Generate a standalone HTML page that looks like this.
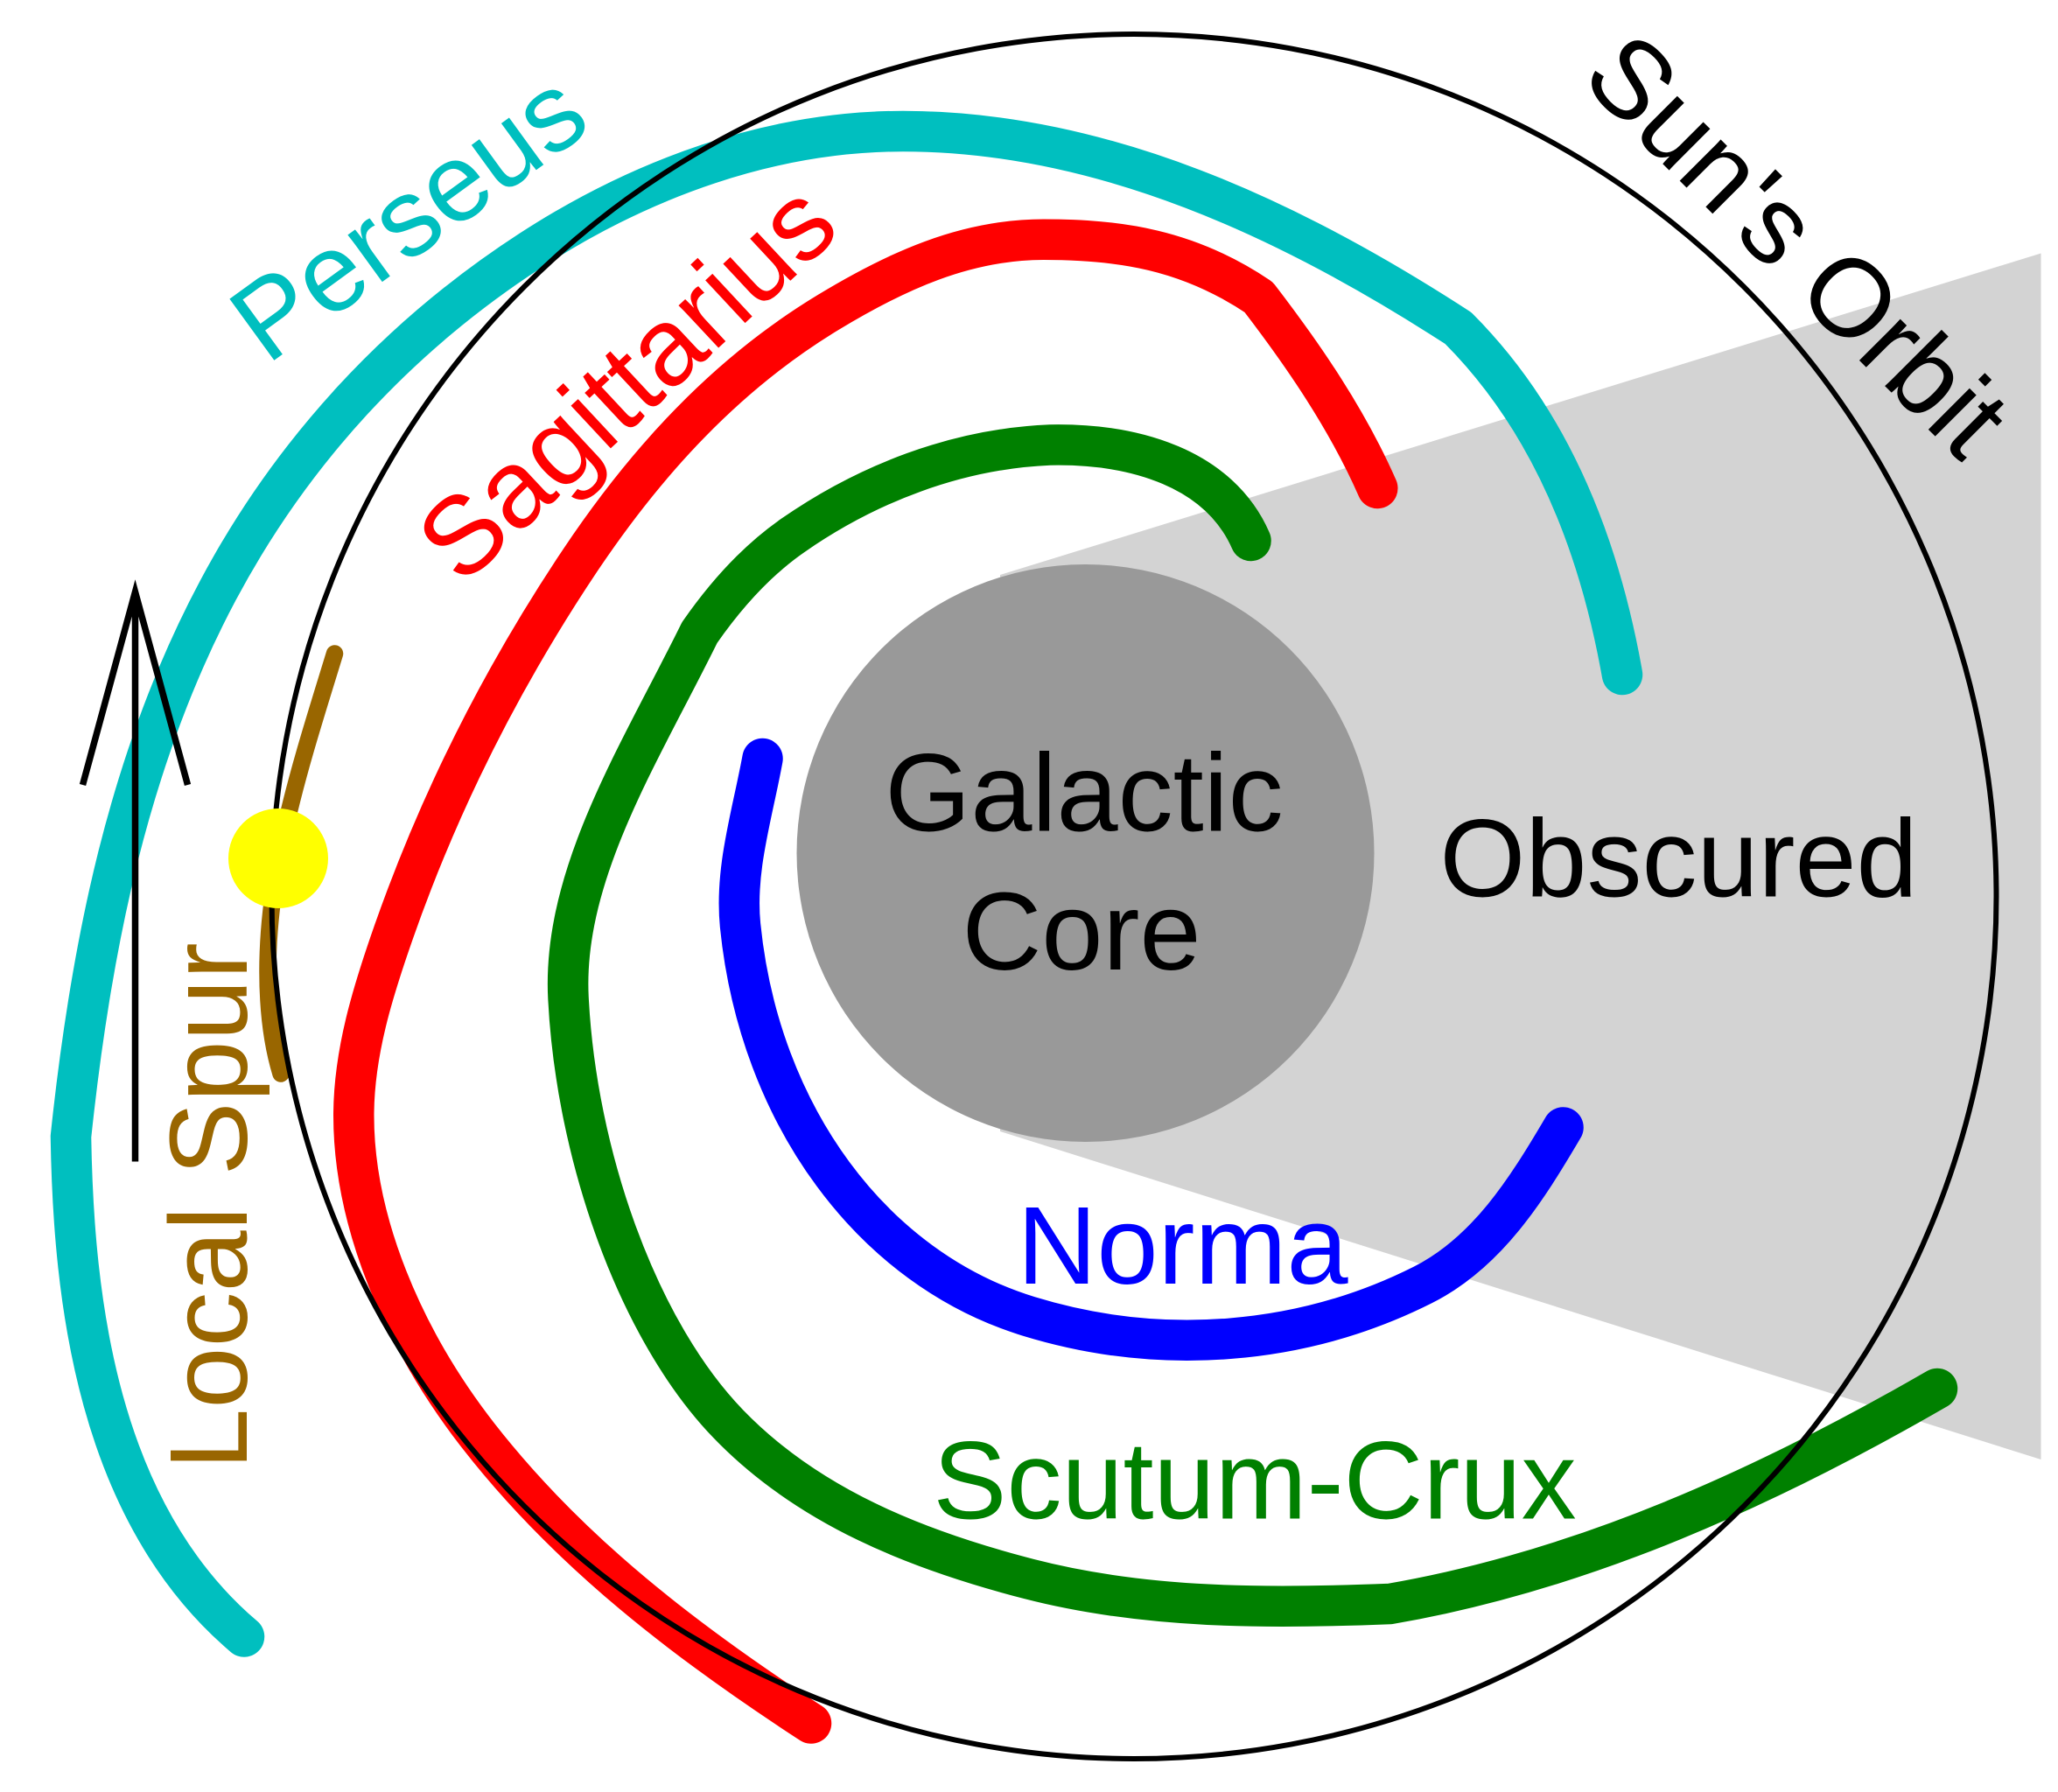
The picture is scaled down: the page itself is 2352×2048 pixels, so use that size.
<!DOCTYPE html>
<html>
<head>
<meta charset="utf-8">
<style>
html,body{margin:0;padding:0;background:#fff;}
svg{display:block;}
</style>
</head>
<body>
<svg xmlns="http://www.w3.org/2000/svg" width="2352" height="2048" viewBox="0 0 1568 1365.333">
<rect x="0" y="0" width="1568" height="1365.333" fill="#ffffff"/>
<!-- obscured region -->
<polygon points="762,438 1555,193 1555,1112 762,862" fill="#d3d3d3"/>
<!-- galactic core -->
<circle cx="827" cy="650" r="220" fill="#999999"/>

<g fill="none" stroke-width="31" stroke-linecap="round" stroke-linejoin="round">
<!-- Perseus -->
<path stroke="#00bfbf" d="M186,1247 C74,1152 56,990 54,866 C69.2,721.7 97.8,578 166,450 C222.4,344 303.3,256.4 404,191 C488.7,136 587,100 688,100 C840,100 983.5,167.2 1111,250 C1181.7,320.7 1218.6,415.5 1236,514"/>
<!-- Sagittarius -->
<path stroke="#ff0000" d="M1049.5,372 C1026.6,319.8 993.7,271.6 959,226.4 C905,190 853,182.5 795,182.5 C735,182.5 682.3,206.9 631,238 C553.2,285.1 492.6,351.4 442,427 C383.1,515.1 335.1,609.9 300,710 C284.1,755.3 269.5,802 269.5,850 C269.5,930 306.1,1019 364.5,1094 C434,1183.2 523.3,1251.3 618,1313"/>
<!-- Scutum-Crux -->
<path stroke="#008000" d="M953,412 C929,357 865,337.7 800,339 C728,342 660,369 604,408 C576.1,427.4 552.4,454.1 533,482 C488.9,571.8 428.3,665.1 433,760 C439,879.8 485.5,1013.1 555,1085 C616.2,1148.3 698.8,1181 784,1203 C873,1226 967.2,1225.7 1059,1222 C1206.8,1196.5 1346.1,1133 1476,1058"/>
<!-- Norma -->
<path stroke="#0000ff" d="M581,578 C573.3,620.3 559.7,662.2 564,705 C578.5,849.3 664.5,966.5 784,1003 C883.4,1033.4 991.1,1025.7 1084,979 C1133.1,954.3 1163.1,906.4 1191,859"/>
</g>

<!-- Local Spur -->
<path fill="none" stroke="#996600" stroke-width="13" stroke-linecap="round" stroke-linejoin="round" d="M255,498 C230.7,577.3 204,657 204,740 C204,766 206.4,793.1 214,818"/>

<!-- Sun's orbit -->
<circle cx="864" cy="683" r="657" fill="none" stroke="#000" stroke-width="4"/>

<!-- direction arrow -->
<path d="M103,885 L103,451 M63,598 L103,451 L143,598" fill="none" stroke="#000" stroke-width="5" stroke-linejoin="miter"/>

<!-- Sun -->
<circle cx="212" cy="654" r="38" fill="#ffff00"/>

<g font-family="'Liberation Sans', Arial, sans-serif" font-size="84" text-anchor="middle">
<text x="826" y="633" fill="#000">Galactic</text>
<text x="824" y="738.5" fill="#000">Core</text>
<text x="1279" y="683" fill="#000">Obscured</text>
<text x="901" y="978" fill="#0000ff">Norma</text>
<text x="956" y="1157" fill="#008000">Scutum-Crux</text>
<text transform="translate(328,188) rotate(-36)" fill="#00bfbf">Perseus</text>
<text transform="translate(497,312) rotate(-43)" fill="#ff0000">Sagittarius</text>
<text transform="translate(1349,207) rotate(45)" fill="#000">Sun's Orbit</text>
<text transform="translate(188,919) rotate(-90)" fill="#996600">Local Spur</text>
</g>
</svg>
</body>
</html>
